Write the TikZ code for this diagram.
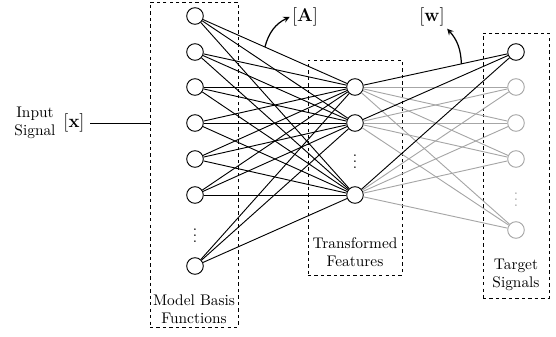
\documentclass[tikz,border=0pt]{standalone}
\usepackage{amsmath}

\begin{document}
\begin{tikzpicture}[x=0.65pt,y=-0.65pt,>=stealth,semithick,
        neuron/.style={circle,draw,minimum size=10.8pt,inner sep=0pt},
        faded/.style={draw=black!35},
        groupbox/.style={draw,thin,dash pattern=on 2.2pt off 2pt,inner sep=0pt}]
            \useasboundingbox (0,0) rectangle (556,337);
            % Dashed boxes round each layer:
            \node [groupbox,minimum width=57.2pt,minimum height=211.3pt] (basisbox) at (194,164.5) {};
            \node [groupbox,minimum width=61.1pt,minimum height=139.8pt] (featbox) at (355,167.5) {};
            \node [groupbox,minimum width=42.9pt,minimum height=172.3pt] (targbox) at (516,165.5) {};
            \node [align=center] (basislabel) at (194,309) {Model Basis\\Functions};
            \node [align=center] (featlabel) at (355,252) {Transformed\\Features};
            \node [align=center] (targlabel) at (516,275) {Target\\Signals};

            % Layers of neurons:
            \foreach \n/\y in {1/16,2/52,3/87,4/123,5/159,6/195,7/266}{%
                \node [neuron] (b\n) at (195,\y) {};
            }
            \node (bdots) at (195,231) {$\vdots$};
            \foreach \n/\y in {1/87,2/123,3/195}{%
                \node [neuron] (t\n) at (355,\y) {};
            }
            \node (tdots) at (355,157) {$\vdots$};
            \node [neuron] (s1) at (516,52) {};
            \foreach \n/\y in {2/87,3/123,4/159,5/230}{%
                \node [neuron,faded] (s\n) at (516,\y) {};
            }
            \node [text=black!35] (sdots) at (516,195) {$\vdots$};

            % Connections:
            \foreach \i in {1,...,7}{%
                \foreach \j in {1,2,3}{%
                    \draw (b\i) -- (t\j);
                }
            }
            \foreach \j in {1,2,3}{%
                \foreach \k in {2,...,5}{%
                    \draw [faded] (t\j) -- (s\k);
                }
                \draw (t\j) -- (s1);
            }

            % Input signal:
            \node [align=center] (insig) at (35,123) {Input\\Signal};
            \node (xvec) at (74,123) {\large $[\mathbf{x}]$};
            \draw (xvec) -- (xvec -| basisbox.west);

            % Weight labels:
            \node (Alab) at (305,17) {\large $[\mathbf{A}]$};
            \node (wlab) at (432,17) {\large $[\mathbf{w}]$};
            \path (b1) -- coordinate [pos=0.43] (Afoot) (t1);
            \path (t1) -- coordinate [pos=0.68] (wfoot) (s1);
            \draw [->,thick] (Afoot) to [bend left=25] ([xshift=2pt]Alab.west);
            \draw [->,thick] (wfoot) to [bend right=20] ([xshift=-2pt,yshift=2pt]wlab.south east);
\end{tikzpicture}
\end{document}
